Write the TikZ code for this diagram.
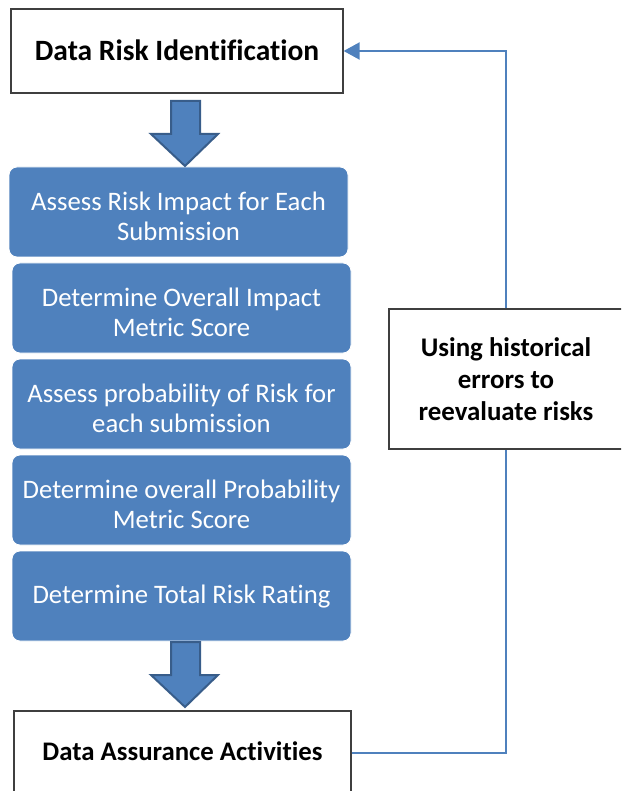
\documentclass[tikz,border=0pt]{standalone}
\usepackage{fontspec}
\setmainfont{Carlito}[Ligatures=NoCommon]
\usetikzlibrary{arrows.meta,calc}
\definecolor{accent}{HTML}{4F81BD}
\definecolor{accentdark}{HTML}{385D8A}
\definecolor{frame}{HTML}{3F3F3F}
\tikzset{
  whitebox/.style={draw=frame, line width=1.2pt, fill=white, align=center,
    inner sep=0pt, font=\fontsize{26.8}{30}\selectfont\bfseries},
  stepbox/.style={fill=accent, draw=white, line width=0.8pt, rounded corners=8pt,
    minimum width=339pt, minimum height=90pt, inner sep=0pt},
  steptext/.style={text=white, align=center, inner sep=0pt,
    font=\fontsize{26.7}{30}\selectfont, yshift=-4pt},
  blockarrow/.style={fill=accent, draw=accentdark, line width=2pt, line join=miter},
  feedback/.style={draw=accent, line width=2pt},
}
\begin{document}
\begin{tikzpicture}[x=1pt,y=-1pt]
\useasboundingbox (0,0) rectangle (621,791);
\clip (0,0) rectangle (621,791);

% top and bottom boxes
\node[whitebox, minimum width=332pt, minimum height=84pt,
      font=\fontsize{29.5}{30}\selectfont\bfseries] (risk) at (177,51)
  {\raisebox{1pt}{Data Risk Identification}};
\node[whitebox, minimum width=337pt, minimum height=84pt] (assure) at (182.5,753)
  {\raisebox{3pt}{Data Assurance Activities}};

% feedback box
\node[whitebox, minimum width=234pt, minimum height=140pt,
      font=\fontsize{26.9}{32}\selectfont\bfseries] (hist) at (506,379)
  {Using historical\\errors to\\reevaluate risks};

% process steps
\node[stepbox, label={[steptext]center:{Assess Risk Impact for Each\\Submission}}]
  (s1) at (178.5,212) {};
\node[stepbox, label={[steptext]center:{Determine Overall Impact\\Metric Score}}]
  (s2) at (181.5,308) {};
\node[stepbox, label={[steptext]center:{Assess probability of Risk for\\each submission}}]
  (s3) at (181.5,404) {};
\node[stepbox, label={[steptext]center:{Determine overall Probability\\Metric Score}}]
  (s4) at (181.5,500) {};
\node[stepbox, label={[steptext, yshift=3pt]center:{Determine Total Risk Rating}}]
  (s5) at (181.5,596) {};

% block arrows
\path[blockarrow] (171,101) -- (200,101) -- (200,134) -- (218,134) -- (185,166)
  -- (151,134) -- (171,134) -- cycle;
\path[blockarrow] (171,642) -- (200,642) -- (200,675) -- (218,675) -- (185,707)
  -- (151,675) -- (171,675) -- cycle;

% feedback loop
\draw[feedback] (assure.east) -| (hist.south);
\draw[feedback, -{Triangle[length=16pt,width=17pt]}] (hist.north) |- (risk.east);
\end{tikzpicture}
\end{document}
